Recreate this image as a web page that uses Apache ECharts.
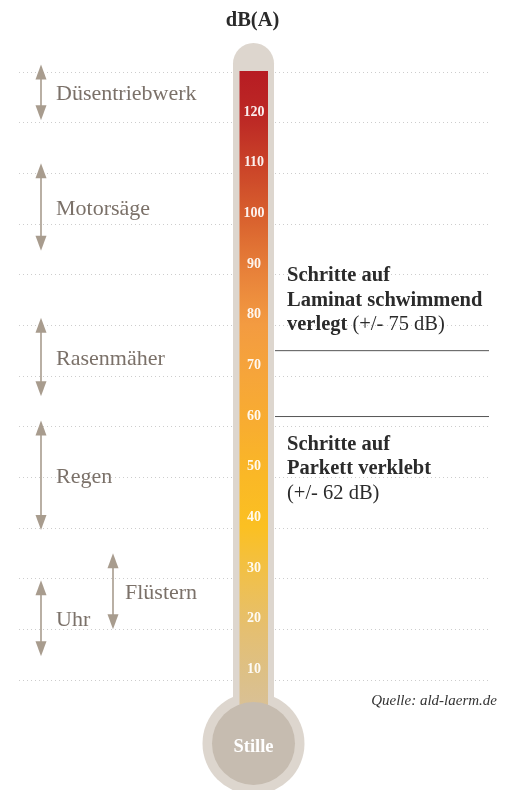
<!DOCTYPE html>
<html><head><meta charset="utf-8">
<script src="https://cdn.jsdelivr.net/npm/echarts@6/dist/echarts.min.js"></script>
<style>html,body{margin:0;padding:0;background:#fff}#c{width:505px;height:790px}</style>
</head><body><div id="c"></div>
<script>
// ---- data ----
const chartTitle = 'dB(A)';
const scaleMin = 10;
const scaleMax = 130;
const tickValues = [10, 20, 30, 40, 50, 60, 70, 80, 90, 100, 110, 120];
const sourceNames = ['Düsentriebwerk', 'Motorsäge', 'Rasenmäher', 'Regen', 'Flüstern', 'Uhr'];
const sourceLow = [120.5, 94.7, 66, 39.6, 20, 14.7];
const sourceHigh = [131.5, 112, 81.5, 61.2, 35, 29.7];
const sourceColumn = [0, 0, 0, 0, 1, 0];
const stepValues = [75, 62];
const stepLines = [['Schritte auf', 'Laminat schwimmend', 'verlegt'], ['Schritte auf', 'Parkett verklebt']];
const stepNotes = ['(+/- 75 dB)', '(+/- 62 dB)'];
const gradientValues = [130, 120, 110, 100, 90, 80, 70, 60, 50, 40, 30, 20, 10, 0];
const gradientColors = ['#b71c23', '#bd2a25', '#cc4729', '#da642f', '#e8823a', '#f39b41', '#f6a53a', '#f8ad30', '#fab826', '#fbc022', '#f0c04c', '#e5bf70', '#dcc089', '#d7c19f'];
const bulbLabel = 'Stille';
const sourceNote = 'Quelle: ald-laerm.de';

// ---- layout ----
const SERIF = '"Liberation Serif", "DejaVu Serif", serif';
const CX = 253.5;
const arrowX = [41, 113];
const textX = [56, 125];

const chart = echarts.init(document.getElementById('c'), null, {renderer: 'canvas'});

const option = {
  animation: false,
  backgroundColor: '#ffffff',
  grid: {left: 19, right: 14, top: 72, bottom: 110},
  xAxis: {type: 'value', min: 0, max: 1, show: false, splitLine: {show: false}},
  yAxis: {
    type: 'value', min: scaleMin, max: scaleMax, interval: 10,
    axisLabel: {show: false}, axisLine: {show: false}, axisTick: {show: false},
    splitLine: {show: true, lineStyle: {color: '#cdcdcd', width: 1, type: [1, 3]}}
  },
  graphic: [
    {type: 'text', left: 'center', top: 10, style: {text: chartTitle, font: 'bold 20.5px ' + SERIF, fill: '#2a2a2a'}},
    {type: 'text', right: 8, top: 694, style: {text: sourceNote, font: 'italic 15px ' + SERIF, fill: '#333333'}}
  ],
  series: [
    {
      type: 'custom', clip: false, z: 2,
      data: [[0, scaleMax]],
      renderItem: function (params, api) {
        const yTop = api.coord([0, scaleMax])[1];
        const H = api.getHeight();
        const cy = H - 46.5;
        const yOf = v => api.coord([0, v])[1];
        const span = cy - yTop;
        const stops = gradientValues.map((v, i) => ({offset: Math.min(1, Math.max(0, (yOf(v) - yTop) / span)), color: gradientColors[i]}));
        return {
          type: 'group',
          children: [
            {type: 'rect', shape: {x: CX - 20.5, y: yTop - 29, width: 41, height: cy - yTop + 29, r: [20.5, 20.5, 0, 0]}, style: {fill: '#ddd6ce'}},
            {type: 'circle', shape: {cx: CX, cy: cy, r: 51}, style: {fill: '#ddd6ce'}},
            {type: 'rect', shape: {x: CX - 14, y: yTop - 1, width: 28.5, height: span}, style: {fill: new echarts.graphic.LinearGradient(0, 0, 0, 1, stops)}},
            {type: 'circle', shape: {cx: CX, cy: cy, r: 41.5}, style: {fill: '#c6bcb0'}},
            {type: 'text', x: CX, y: cy + 4, style: {text: bulbLabel, font: 'bold 18.5px ' + SERIF, fill: '#ffffff', align: 'center', verticalAlign: 'middle'}}
          ]
        };
      }
    },
    {
      type: 'custom', clip: false, z: 3,
      data: tickValues.map(v => [0, v]),
      renderItem: function (params, api) {
        const y = api.coord([0, api.value(1)])[1];
        return {type: 'text', x: CX + 0.5, y: y - 10.5, style: {text: String(api.value(1)), font: 'bold 14px ' + SERIF, fill: 'rgba(255,255,255,0.92)', align: 'center', verticalAlign: 'middle'}};
      }
    },
    {
      type: 'custom', clip: false, z: 3,
      data: sourceNames.map((n, i) => [sourceColumn[i], sourceLow[i], sourceHigh[i]]),
      renderItem: function (params, api) {
        const i = params.dataIndex;
        const col = api.value(0);
        const x = arrowX[col];
        const yT = api.coord([0, api.value(2)])[1];
        const yB = api.coord([0, api.value(1)])[1];
        const hl = 15, hw = 5.5;
        const c = '#a89c8e';
        return {
          type: 'group',
          children: [
            {type: 'line', shape: {x1: x, y1: yT + hl - 2, x2: x, y2: yB - hl + 2}, style: {stroke: c, lineWidth: 1.6}},
            {type: 'polygon', shape: {points: [[x, yT], [x - hw, yT + hl], [x + hw, yT + hl]]}, style: {fill: c}},
            {type: 'polygon', shape: {points: [[x, yB], [x - hw, yB - hl], [x + hw, yB - hl]]}, style: {fill: c}},
            {type: 'text', x: textX[col], y: (yT + yB) / 2 + 2, style: {text: sourceNames[i], font: '22px ' + SERIF, fill: '#7b7169', align: 'left', verticalAlign: 'middle'}}
          ]
        };
      }
    },
    {
      type: 'custom', clip: false, z: 3,
      data: stepValues.map(v => [0, v]),
      renderItem: function (params, api) {
        const i = params.dataIndex;
        const y = api.coord([0, api.value(1)])[1];
        const lines = stepLines[i].map(s => '{b|' + s + '}');
        let txt;
        if (i === 0) {
          lines[lines.length - 1] += '{n| ' + stepNotes[i] + '}';
          txt = lines.join('\n');
        } else {
          txt = lines.join('\n') + '\n{n|' + stepNotes[i] + '}';
        }
        const above = i === 0;
        return {
          type: 'group',
          children: [
            {type: 'line', shape: {x1: 275, y1: y, x2: 489, y2: y}, style: {stroke: '#555555', lineWidth: 1}},
            {type: 'text', x: 287, y: above ? y - 13.5 : y + 15.5, style: {
              text: txt, align: 'left', verticalAlign: above ? 'bottom' : 'top', lineHeight: 24.5,
              rich: {
                b: {font: 'bold 20.5px ' + SERIF, fill: '#2b2b2b', lineHeight: 24.5},
                n: {font: '20.5px ' + SERIF, fill: '#2b2b2b', lineHeight: 24.5}
              }
            }}
          ]
        };
      }
    }
  ]
};
chart.setOption(option);
</script>
</body></html>
